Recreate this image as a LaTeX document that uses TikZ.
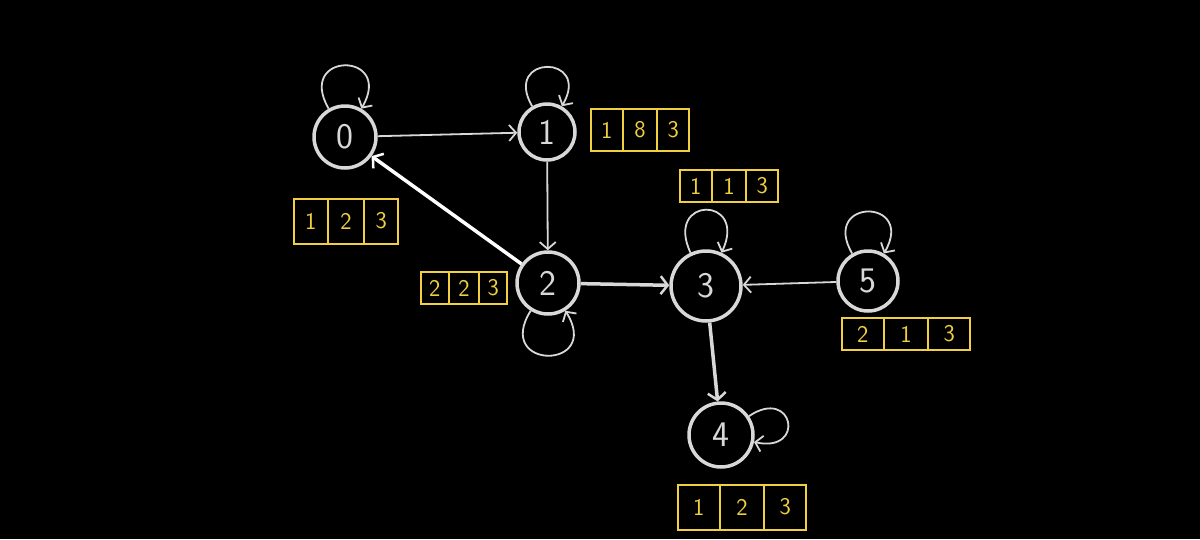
\documentclass[tikz,border=0pt]{standalone}
\usepackage{tikz}
\usetikzlibrary{arrows.meta, shapes.multipart}
\definecolor{grigio}{RGB}{216,216,216}
\definecolor{giallo}{RGB}{240,208,64}

\begin{document}
\begin{tikzpicture}[x = 1pt, y = 1pt,
    nodo/.style = {circle, draw = grigio, line width = 3.5pt, inner sep = 0pt, text = grigio, font = \fontsize{36}{38}\selectfont\sffamily},
    vettore/.style = {rectangle split, rectangle split horizontal, rectangle split parts = 3, draw = giallo, line width = 2pt, text = giallo, inner ysep = 0pt, font = \fontsize{24}{26}\selectfont\sffamily},
    freccia/.style = {draw = grigio, line width = 1.8pt, -{Straight Barb[length = 7pt, width = 16pt, line width = 1.8pt]}},
    spessa/.style = {line width = 3.5pt, -{Straight Barb[length = 7pt, width = 18pt, line width = 2.5pt]}},
    every loop/.style = {freccia, looseness = 5.2},
    cappio sopra/.style = {out = 120, in = 60, loop},
    cappio sotto/.style = {out = -122, in = -58, loop},
    cappio destra/.style = {out = 34, in = -12, loop}
    ]
    % Sfondo
    \fill[black] (0,0) rectangle (1200,-539);
    \useasboundingbox (0,0) rectangle (1200,-539);
    % Nodi
    \node[nodo, minimum size = 62pt] (n0) at (345,-137) {0};
    \node[nodo, minimum size = 56pt] (n1) at (547,-132) {1};
    \node[nodo, minimum size = 62pt] (n2) at (548,-283) {2};
    \node[nodo, minimum size = 70pt] (n3) at (706,-286) {3};
    \node[nodo, minimum size = 64pt] (n4) at (721,-435) {4};
    \node[nodo, minimum size = 60pt] (n5) at (868,-281) {5};
    % Vettori
    \node[vettore, inner xsep = 11pt, minimum height = 45pt] (v0) at (346,-221) {1\nodepart{two}2\nodepart{three}3};
    \node[vettore, inner xsep = 10pt, minimum height = 42pt] (v1) at (640,-130) {1\nodepart{two}8\nodepart{three}3};
    \node[vettore, inner xsep = 8pt, minimum height = 32pt] (v2) at (464,-288) {2\nodepart{two}2\nodepart{three}3};
    \node[vettore, inner xsep = 10pt, minimum height = 32pt] (v3) at (729,-186) {1\nodepart{two}1\nodepart{three}3};
    \node[vettore, inner xsep = 15pt, minimum height = 32pt] (v5) at (906,-334) {2\nodepart{two}1\nodepart{three}3};
    \node[vettore, inner xsep = 15pt, minimum height = 45pt] (v4) at (742,-507) {1\nodepart{two}2\nodepart{three}3};
    % Archi
    \draw[freccia] (n0) -- (n1);
    \draw[freccia] (n1) -- (n2);
    \draw[freccia, spessa, draw = white] (n2) -- (n0);
    \draw[freccia, spessa] (n2) -- (n3);
    \draw[freccia] (n5) -- (n3);
    \draw[freccia, spessa] (n3) -- (n4);
    % Cappi
    \draw (n0) edge[cappio sopra] ();
    \draw (n1) edge[cappio sopra] ();
    \draw (n2) edge[cappio sotto] ();
    \draw (n3) edge[out = 115, in = 65, loop] ();
    \draw (n4) edge[cappio destra] ();
    \draw (n5) edge[cappio sopra] ();
\end{tikzpicture}
\end{document}
